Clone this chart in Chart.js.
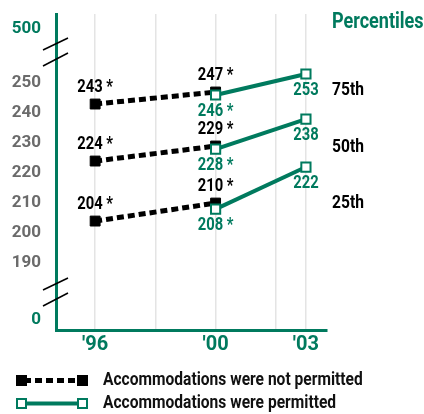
<!DOCTYPE html>
<html>
<head>
<meta charset="utf-8">
<script src="https://cdn.jsdelivr.net/npm/chart.js@4"></script>
<style>
  html, body { margin: 0; padding: 0; background: #fff; }
  #wrap { width: 424px; height: 414px; }
</style>
</head>
<body>
<div id="wrap"><canvas id="lineChart"></canvas></div>
<script>
const GREEN = "#007a5e";
const FONT = "Roboto, 'DejaVu Sans Condensed', sans-serif";
const SQUEEZE = 0.82; // the original type is a condensed face

// data
const yearsNotPermitted = [1996, 2000];
const yearsPermitted = [2000, 2003];
const gridYears = [1996, 1998, 2000, 2002, 2003];
const yearLabels = { 1996: "'96", 2000: "'00", 2003: "'03" };

const p75NotPermitted = [243, 247];
const p50NotPermitted = [224, 229];
const p25NotPermitted = [204, 210];
const p75Permitted = [246, 253];
const p50Permitted = [228, 238];
const p25Permitted = [208, 222];
const starsNotPermitted = [true, true];
const starsPermitted = [true, false];

const percentileNames = ["75th", "50th", "25th"];
const yTicks = [190, 200, 210, 220, 230, 240, 250];
// axis is broken: 0 and 500 are drawn at these compressed spots
const brokenTicks = [{ at: 171, label: "0" }, { at: 268, label: "500" }];

const legendLabels = ["Accommodations were not permitted", "Accommodations were permitted"];

function series(years, values, stars, permitted) {
    return {
        data: years.map((x, i) => ({ x: x, y: values[i] })),
        stars: stars,
        permitted: permitted,
        borderColor: permitted ? GREEN : "#000",
        backgroundColor: permitted ? "#fff" : "#000",
        borderWidth: permitted ? 4 : 5,
        borderDash: permitted ? [] : [7, 4],
        pointStyle: "rect",
        pointRadius: permitted ? 6.5 : 7,
        pointHoverRadius: permitted ? 6.5 : 7,
        pointBorderWidth: permitted ? 2 : 1,
        pointBorderColor: permitted ? GREEN : "#000",
        pointBackgroundColor: permitted ? "#fff" : "#000",
        order: permitted ? 1 : 2,
        tension: 0,
    };
}

const datasets = [
    series(yearsNotPermitted, p75NotPermitted, starsNotPermitted, false),
    series(yearsNotPermitted, p50NotPermitted, starsNotPermitted, false),
    series(yearsNotPermitted, p25NotPermitted, starsNotPermitted, false),
    series(yearsPermitted, p75Permitted, starsPermitted, true),
    series(yearsPermitted, p50Permitted, starsPermitted, true),
    series(yearsPermitted, p25Permitted, starsPermitted, true),
];

function squeezedText(ctx, text, x, y, align) {
    ctx.save();
    ctx.translate(x, y);
    ctx.scale(SQUEEZE, 1);
    ctx.textAlign = align;
    ctx.textBaseline = "middle";
    ctx.fillText(text, 0, 0);
    ctx.restore();
}

const extras = {
    id: "extras",
    afterDatasetsDraw(chart) {
        const ctx = chart.ctx;
        ctx.save();
        ctx.font = "bold 18px " + FONT;
        chart.data.datasets.forEach((ds, di) => {
            const meta = chart.getDatasetMeta(di);
            meta.data.forEach((pt, i) => {
                const text = ds.data[i].y + (ds.stars[i] ? " *" : "");
                ctx.fillStyle = ds.permitted ? GREEN : "#000";
                squeezedText(ctx, text, pt.x, pt.y + (ds.permitted ? 16 : -17), "center");
            });
        });
        ctx.restore();
    },
    afterDraw(chart) {
        const ctx = chart.ctx;
        const area = chart.chartArea;
        ctx.save();

        // axis break marks
        ctx.strokeStyle = "#000";
        ctx.lineWidth = 1.5;
        [[50, 38], [66, 53], [290, 278], [306, 293]].forEach(([y1, y2]) => {
            ctx.beginPath();
            ctx.moveTo(area.left - 13, y1);
            ctx.lineTo(area.left + 12, y2);
            ctx.stroke();
        });

        // percentile labels
        const tx = area.right + 5;
        ctx.fillStyle = GREEN;
        ctx.font = "bold 22px " + FONT;
        squeezedText(ctx, "Percentiles", tx, 22, "left");
        ctx.fillStyle = "#000";
        ctx.font = "bold 19px " + FONT;
        [90, 147, 203].forEach((y, i) => squeezedText(ctx, percentileNames[i], tx, y, "left"));

        // legend
        const rows = [380.5, 403.5];
        ctx.lineWidth = 5;
        ctx.strokeStyle = "#000";
        ctx.setLineDash([7, 4]);
        ctx.beginPath();
        ctx.moveTo(24, rows[0]);
        ctx.lineTo(80, rows[0]);
        ctx.stroke();
        ctx.setLineDash([]);
        ctx.fillStyle = "#000";
        ctx.fillRect(16, rows[0] - 5.5, 11, 11);
        ctx.fillRect(77, rows[0] - 5.5, 11, 11);

        ctx.strokeStyle = GREEN;
        ctx.lineWidth = 4;
        ctx.beginPath();
        ctx.moveTo(24, rows[1]);
        ctx.lineTo(80, rows[1]);
        ctx.stroke();
        ctx.lineWidth = 2;
        ctx.fillStyle = "#fff";
        [21.5, 82.5].forEach(cx => {
            ctx.fillRect(cx - 4.5, rows[1] - 4.5, 9, 9);
            ctx.strokeRect(cx - 4.5, rows[1] - 4.5, 9, 9);
        });

        ctx.fillStyle = "#111";
        ctx.font = "bold 19px " + FONT;
        rows.forEach((y, i) => squeezedText(ctx, legendLabels[i], 103, y, "left"));
        ctx.restore();
    }
};

new Chart(document.getElementById("lineChart"), {
    type: "line",
    data: { datasets: datasets },
    options: {
        responsive: true,
        maintainAspectRatio: false,
        animation: false,
        layout: { padding: { top: 14, right: 97, left: 0, bottom: 0 } },
        plugins: { legend: { display: false }, tooltip: { enabled: false } },
        scales: {
            x: {
                type: "linear",
                min: 1994.7,
                max: 2003.7,
                afterBuildTicks: s => { s.ticks = gridYears.map(v => ({ value: v })); },
                afterFit: s => { s.height = 84; s.paddingLeft = 0; s.paddingRight = 0; },
                grid: { color: "#e4e4e4", lineWidth: 1.5, drawTicks: false },
                border: { color: GREEN, width: 3 },
                ticks: {
                    padding: 3,
                    color: GREEN,
                    font: { family: FONT, size: 20, weight: "bold" },
                    callback: v => yearLabels[v] || "",
                },
            },
            y: {
                type: "linear",
                min: 167.7,
                max: 273,
                afterBuildTicks: s => {
                    const vals = brokenTicks.map(t => t.at).concat(yTicks).sort((a, b) => a - b);
                    s.ticks = vals.map(v => ({ value: v }));
                },
                afterFit: s => { s.width = 56; s.paddingTop = 0; s.paddingBottom = 0; },
                grid: { display: false, drawTicks: false },
                border: { color: GREEN, width: 3 },
                ticks: {
                    padding: 15,
                    font: { family: FONT, size: 17, weight: "bold" },
                    color: c => brokenTicks.some(t => t.at === c.tick.value) ? GREEN : "#6b6b6b",
                    callback: v => {
                        const b = brokenTicks.find(t => t.at === v);
                        return b ? b.label : String(v);
                    },
                },
            },
        },
    },
    plugins: [extras],
});
</script>
</body>
</html>
